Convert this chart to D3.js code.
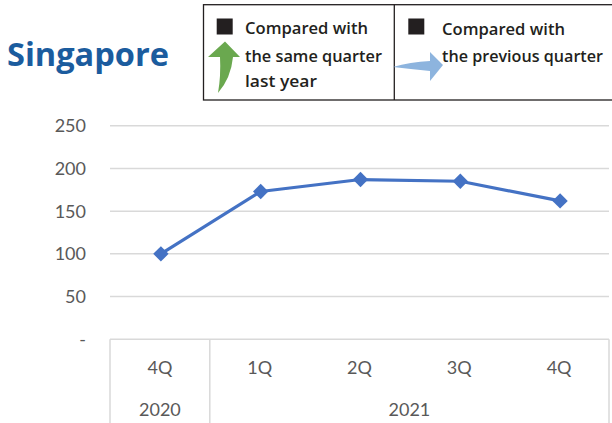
<!DOCTYPE html>
<html><head><meta charset="utf-8">
<script src="https://cdn.jsdelivr.net/npm/d3@7"></script>
<style>html,body{margin:0;padding:0;background:#fff;overflow:hidden}</style>
</head><body><svg id="c" width="612" height="423"></svg>
<script>
const quarters = ["4Q","1Q","2Q","3Q","4Q"];
const yearOfQuarter = ["2020","2021","2021","2021","2021"];
const values = [100, 173, 187, 185, 162];
const yTicks = [0, 50, 100, 150, 200, 250];
const yTickLabels = ["-", "50", "100", "150", "200", "250"];
const title = "Singapore";
const legend1 = ["Compared with", "the same quarter", "last year"];
const legend2 = ["Compared with", "the previous quarter"];

(function(){
const svg = d3.select("#c");
const pL = 110, pR = 609, pT = 125.7, pB = 339.3;
const x = d3.scaleBand().domain(d3.range(quarters.length)).range([pL, pR]).padding(0);
const y = d3.scaleLinear().domain([0, 250]).range([pB, pT]);
const font = "Lato, 'Open Sans', sans-serif";

// gridlines
svg.append("g").selectAll("line").data(yTicks.filter(d => d > 0)).join("line")
  .attr("x1", pL).attr("x2", pR).attr("y1", d => y(d)).attr("y2", d => y(d))
  .attr("stroke", "#d9d9d9").attr("stroke-width", 1.5);

// y labels
svg.append("g").selectAll("text").data(yTicks).join("text")
  .attr("x", 86).attr("y", d => y(d)).attr("dy", "0.36em").attr("text-anchor", "end")
  .attr("font-family", font).attr("font-size", 18).attr("fill", "#595959")
  .text((d, i) => yTickLabels[i]);

// category axis box
const ax = svg.append("g").attr("stroke", "#d9d9d9").attr("stroke-width", 1.5);
ax.append("line").attr("x1", pL).attr("x2", pR).attr("y1", pB).attr("y2", pB);
const bounds = [0];
for (let i = 1; i < yearOfQuarter.length; i++) if (yearOfQuarter[i] !== yearOfQuarter[i-1]) bounds.push(i);
const sepX = bounds.map(i => x(i)).concat([pR]);
ax.selectAll(".sep").data(sepX).join("line")
  .attr("x1", d => d).attr("x2", d => d).attr("y1", pB).attr("y2", 423);

svg.append("g").selectAll("text").data(quarters).join("text")
  .attr("x", (d, i) => x(i) + x.bandwidth() / 2).attr("y", 374).attr("text-anchor", "middle")
  .attr("font-family", font).attr("font-size", 18).attr("fill", "#595959").text(d => d);

const groups = d3.groups(yearOfQuarter.map((yr, i) => ({yr, i})), d => d.yr)
  .map(([yr, arr]) => ({yr, x0: x(arr[0].i), x1: x(arr[arr.length-1].i) + x.bandwidth()}));
svg.append("g").selectAll("text").data(groups).join("text")
  .attr("x", d => (d.x0 + d.x1) / 2).attr("y", 416).attr("text-anchor", "middle")
  .attr("font-family", font).attr("font-size", 18).attr("fill", "#595959").text(d => d.yr);

// line
const cx = i => x(i) + x.bandwidth() / 2 + 1;
svg.append("path").datum(values)
  .attr("d", d3.line().x((d, i) => cx(i)).y(d => y(d)))
  .attr("fill", "none").attr("stroke", "#4472c4").attr("stroke-width", 3.2).attr("stroke-linejoin", "round");
svg.append("g").selectAll("path").data(values).join("path")
  .attr("d", d3.symbol(d3.symbolDiamond2, 150))
  .attr("transform", (d, i) => `translate(${cx(i)},${y(d)})`)
  .attr("fill", "#4472c4");

// title
svg.append("text").attr("x", 7).attr("y", 66).attr("font-family", "'Open Sans', sans-serif")
  .attr("font-weight", 700).attr("font-size", 33).attr("fill", "#1b5c9e")
  .attr("textLength", 162).attr("lengthAdjust", "spacingAndGlyphs").text(title);

// legend box
const lg = svg.append("g");
lg.append("rect").attr("x", 203.5).attr("y", 4.7).attr("width", 420).attr("height", 95.3)
  .attr("fill", "none").attr("stroke", "#231f20").attr("stroke-width", 1.3);
lg.append("line").attr("x1", 394.3).attr("x2", 394.3).attr("y1", 4.7).attr("y2", 100)
  .attr("stroke", "#231f20").attr("stroke-width", 1.3);
lg.append("rect").attr("x", 216.7).attr("y", 18.5).attr("width", 16).attr("height", 16).attr("fill", "#231f20");
lg.append("rect").attr("x", 408.3).attr("y", 18.5).attr("width", 16).attr("height", 16).attr("fill", "#231f20");
const lfont = "'Open Sans', sans-serif";
lg.append("g").selectAll("text").data(legend1).join("text")
  .attr("x", 245).attr("y", (d, i) => [34.3, 61.5, 86.5][i])
  .attr("font-family", lfont).attr("font-weight", 600).attr("font-size", 16.6).attr("fill", "#231f20")
  .attr("textLength", (d, i) => [123, 137, 72][i]).attr("lengthAdjust", "spacingAndGlyphs").text(d => d);
lg.append("g").selectAll("text").data(legend2).join("text")
  .attr("x", 442).attr("y", (d, i) => [35, 61.7][i])
  .attr("font-family", lfont).attr("font-weight", 600).attr("font-size", 16.6).attr("fill", "#231f20")
  .attr("textLength", (d, i) => [123, 161][i]).attr("lengthAdjust", "spacingAndGlyphs").text(d => d);

// green curved up arrow
lg.append("path")
  .attr("d", "M225,41.5 L240,57 L233,57 Q231,78 218,93 Q221,76 220,57 L208,57 Z")
  .attr("fill", "#6aa84f");
// blue right arrow
lg.append("path")
  .attr("d", "M393,67 Q410,62 430,61 L430,52 L443,65 L430,81 L430,71 Q410,69 393,67 Z")
  .attr("fill", "#8db4de");
})();
</script></body></html>
